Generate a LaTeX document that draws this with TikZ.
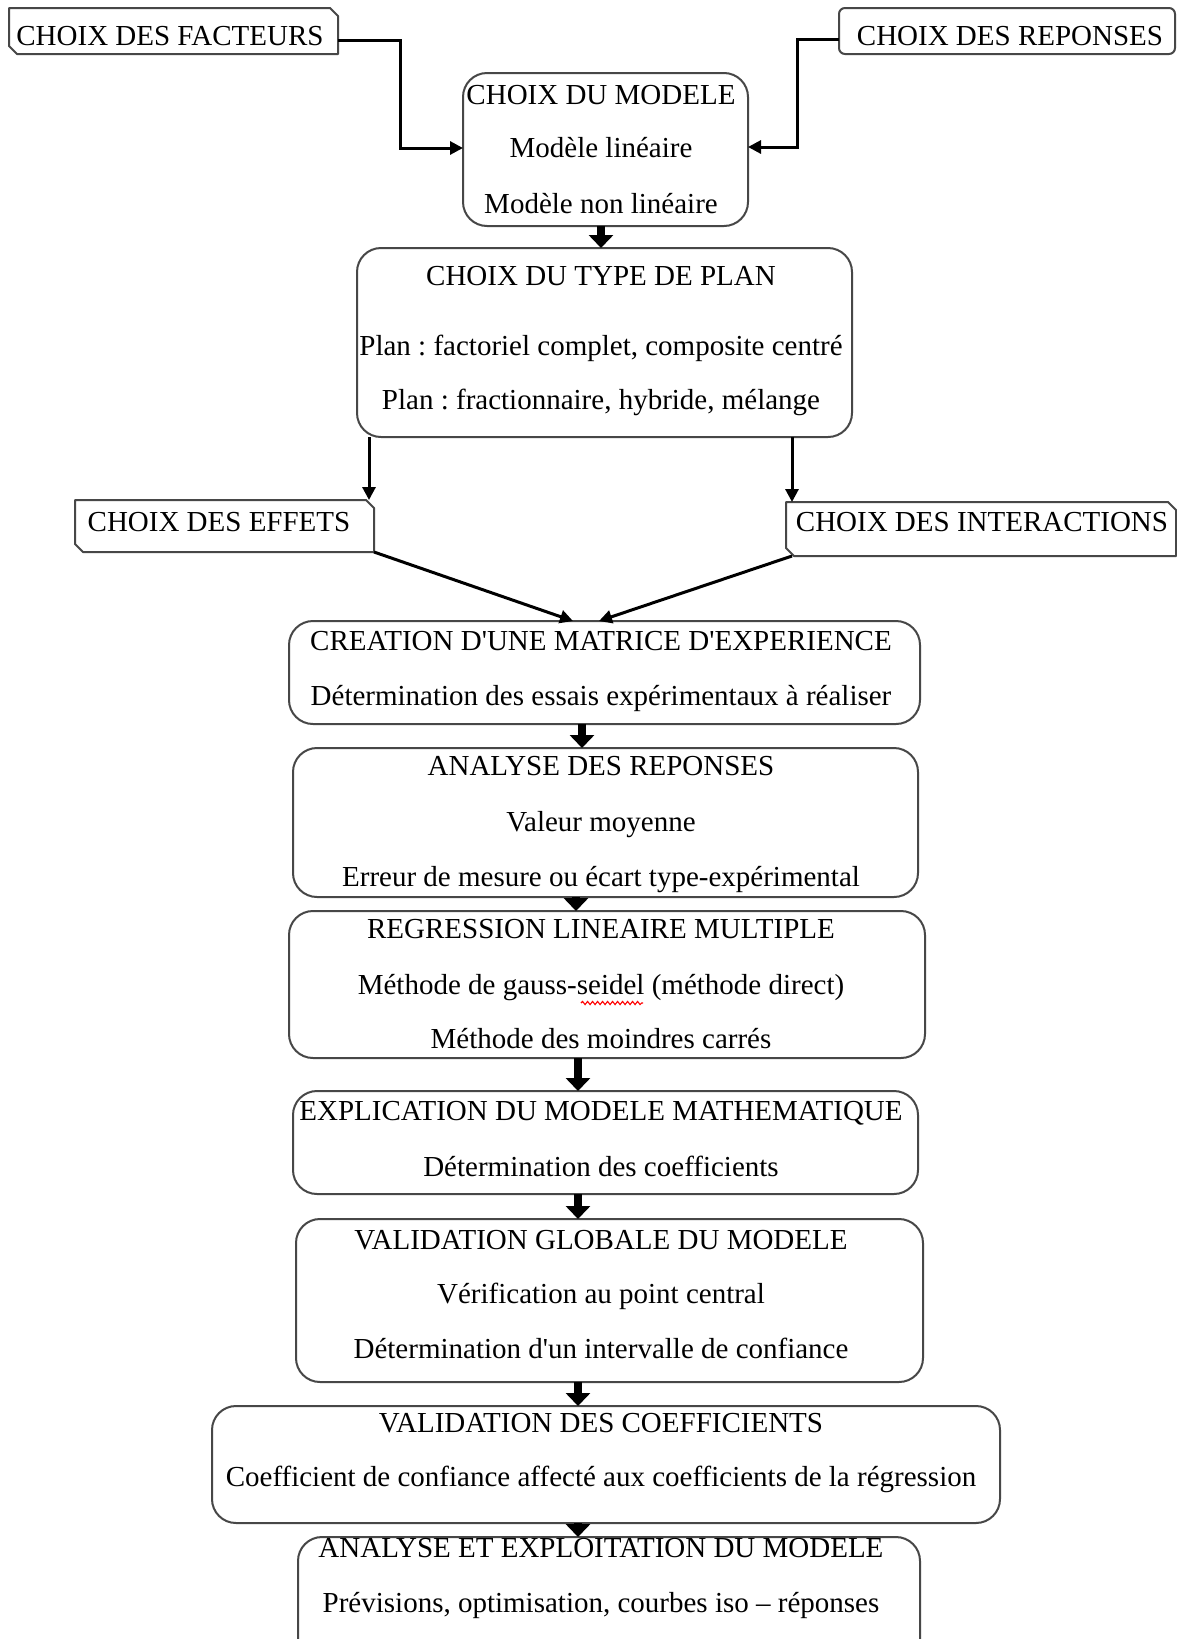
\documentclass[tikz,border=0pt]{standalone}
\usepackage{fontspec}
\setmainfont{Liberation Serif}
\usetikzlibrary{arrows.meta,decorations.pathmorphing}
\frenchspacing
\newcommand{\sq}{\textquotesingle}
\begin{document}
\begin{tikzpicture}[x=1pt,y=-1pt,
  box/.style={draw=black!72, line width=2pt, rounded corners=24pt, inner sep=0pt, outer sep=0pt},
  smallbox/.style={draw=black!72, line width=2pt, rounded corners=6pt, inner sep=0pt, outer sep=0pt},
  holder/.style={inner sep=0pt, outer sep=0pt},
  snipline/.style={draw=black!72, line width=2pt, line join=round},
  txt/.style={anchor=base, inner sep=0pt, font=\fontsize{29}{34}\selectfont},
  conn/.style={draw=black, line width=3pt, -{Triangle[width=13pt,length=13pt]}},
  blk/.style={draw=black, line width=8pt, -{Triangle[width=24pt,length=13pt]}}
]
\useasboundingbox[fill=white] (0,0) rectangle (1177,1639);

% top boxes
\node[holder, minimum width=329pt, minimum height=46pt] (fact) at (173.5,31) {};
\draw[snipline] (fact.north west) -- ([xshift=-8pt]fact.north east) -- ([yshift=-8pt]fact.north east)
  -- (fact.south east) -- ([xshift=8pt]fact.south west) -- ([yshift=8pt]fact.south west) -- cycle;
\node[txt] (tfact) at (170,45) {CHOIX DES FACTEURS};

\node[smallbox, minimum width=336pt, minimum height=46pt] (rep) at (1007,31) {};
\node[txt] (trep) at (1010,45) {CHOIX DES REPONSES};

% modele
\node[box, minimum width=285pt, minimum height=153pt] (modele) at (605.5,149.5) {};
\node[txt] (tm1) at (601,104) {CHOIX DU MODELE};
\node[txt] (tm2) at (601,157) {Modèle linéaire};
\node[txt] (tm3) at (601,213) {Modèle non linéaire};

% plan
\node[box, minimum width=495pt, minimum height=189pt] (plan) at (604.5,342.5) {};
\node[txt] (tp1) at (601,285) {CHOIX DU TYPE DE PLAN};
\node[txt] (tp2) at (601,355) {Plan : factoriel complet, composite centré};
\node[txt] (tp3) at (601,409) {Plan : fractionnaire, hybride, mélange};

% effets
\node[holder, minimum width=299pt, minimum height=52pt] (effets) at (224.5,526) {};
\draw[snipline] (effets.north west) -- ([xshift=-8pt]effets.north east) -- ([yshift=-8pt]effets.north east)
  -- (effets.south east) -- ([xshift=8pt]effets.south west) -- ([yshift=8pt]effets.south west) -- cycle;
\node[txt] (te) at (219,531) {CHOIX DES EFFETS};

% interactions
\node[holder, minimum width=390pt, minimum height=54pt] (inter) at (981,529) {};
\draw[snipline] (inter.north west) -- ([xshift=-8pt]inter.north east) -- ([yshift=-8pt]inter.north east)
  -- (inter.south east) -- ([xshift=8pt]inter.south west) -- ([yshift=8pt]inter.south west) -- cycle;
\node[txt] (ti) at (982,531) {CHOIX DES INTERACTIONS};

% creation
\node[box, minimum width=631pt, minimum height=103pt] (creation) at (604.5,672.5) {};
\node[txt] (tc1) at (601,650) {CREATION D\sq UNE MATRICE D\sq EXPERIENCE};
\node[txt] (tc2) at (601,705) {Détermination des essais expérimentaux à réaliser};

% analyse
\node[box, minimum width=625pt, minimum height=149pt] (analyse) at (605.5,822.5) {};
\node[txt] (ta1) at (601,775) {ANALYSE DES REPONSES};
\node[txt] (ta2) at (601,831) {Valeur moyenne};
\node[txt] (ta3) at (601,886) {Erreur de mesure ou écart type-expérimental};

% regression
\node[box, minimum width=636pt, minimum height=147pt] (regr) at (607,984.5) {};
\node[txt] (tr1) at (601,938) {REGRESSION LINEAIRE MULTIPLE};
\node[txt] (tr2) at (601,994) {Méthode de gauss-seidel (méthode direct)};
\node[txt] (tr3) at (601,1048) {Méthode des moindres carrés};
\coordinate (wavyA) at (581,1003);
\coordinate (wavyB) at (643,1003);
\draw[red, line width=1.1pt, decorate, decoration={snake, amplitude=1.6pt, segment length=5pt}] (wavyA) -- (wavyB);

% explication
\node[box, minimum width=625pt, minimum height=103pt] (expl) at (605.5,1142.5) {};
\node[txt] (tx1) at (601,1120) {EXPLICATION DU MODELE MATHEMATIQUE};
\node[txt] (tx2) at (601,1176) {Détermination des coefficients};

% validation globale
\node[box, minimum width=627pt, minimum height=163pt] (valg) at (609.5,1300.5) {};
\node[txt] (tv1) at (601,1249) {VALIDATION GLOBALE DU MODELE};
\node[txt] (tv2) at (601,1303) {Vérification au point central};
\node[txt] (tv3) at (601,1358) {Détermination d\sq un intervalle de confiance};

% validation coefficients
\node[box, minimum width=788pt, minimum height=117pt] (valc) at (606,1464.5) {};
\node[txt] (tw1) at (601,1432) {VALIDATION DES COEFFICIENTS};
\node[txt] (tw2) at (601,1486) {Coefficient de confiance affecté aux coefficients de la régression};

% exploitation
\node[box, minimum width=622pt, minimum height=128pt] (expo) at (609,1601) {};
\node[txt] (ty1) at (601,1557) {ANALYSE ET EXPLOITATION DU MODELE};
\node[txt] (ty2) at (601,1612) {Prévisions, optimisation, courbes iso -- réponses};

% connectors
\draw[conn] (fact.east |- 0,40) -| (400,148) -- (modele.west |- 0,148);
\draw[conn] (rep.west |- 0,39) -| (797,147) -- (modele.east |- 0,147);
\draw[conn] (plan.south -| 369,0) -- (effets.north -| 369,0);
\draw[conn] (plan.south -| 792,0) -- (inter.north -| 792,0);
\draw[conn] (effets.south east) -- (creation.north -| 573,0);
\draw[conn] ([xshift=6pt]inter.south west) -- (creation.north -| 599,0);

% block arrows
\draw[blk] (modele.south -| 601,0) -- (plan.north -| 601,0);
\draw[blk] (creation.south -| 582,0) -- (analyse.north -| 582,0);
\draw[blk] (analyse.south -| 576,0) -- (regr.north -| 576,0);
\draw[blk] (regr.south -| 578,0) -- (expl.north -| 578,0);
\draw[blk] (expl.south -| 578,0) -- (valg.north -| 578,0);
\draw[blk] (valg.south -| 578,0) -- (valc.north -| 578,0);
\draw[blk] (valc.south -| 578,0) -- (expo.north -| 578,0);
\end{tikzpicture}
\end{document}
